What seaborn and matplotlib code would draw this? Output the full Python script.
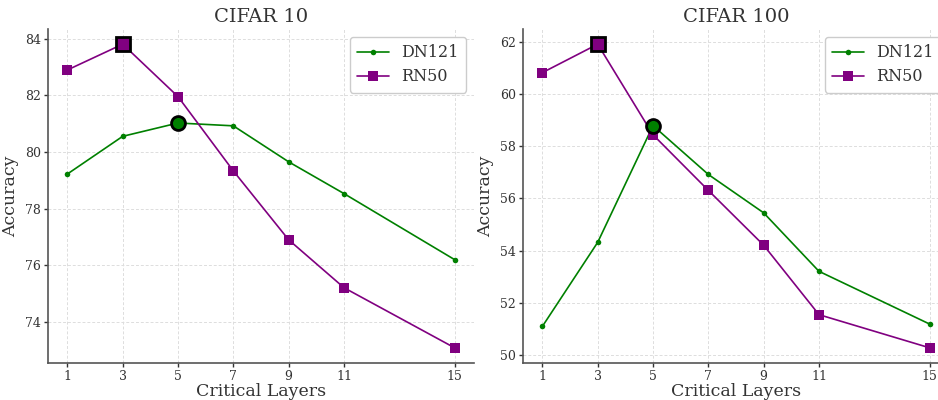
import matplotlib
matplotlib.use("Agg")
import matplotlib.pyplot as plt
import seaborn as sns
import pandas as pd
import numpy as np

layers = [1, 3, 5, 7, 9, 11, 15]
c10_dn121 = [79.22, 80.55, 81.02, 80.92, 79.65, 78.53, 76.20]
c10_rn50 = [82.89, 83.80, 81.95, 79.33, 76.90, 75.21, 73.09]
c100_dn121 = [51.10, 54.32, 58.79, 56.92, 55.45, 53.21, 51.19]
c100_rn50 = [60.82, 61.91, 58.44, 56.31, 54.21, 51.55, 50.28]
titles = ["CIFAR 10", "CIFAR 100"]
series_names = ["DN121", "RN50"]

sns.set_theme(style="whitegrid")
plt.rcParams["font.family"] = ["DejaVu Serif"]

fig = plt.figure(figsize=(9.38, 4), dpi=100)
W, H = 938, 400
ax1 = fig.add_axes([48 / W, 37 / H, 426 / W, 334 / H])
ax2 = fig.add_axes([523 / W, 37 / H, 426 / W, 334 / H])

datasets = [(c10_dn121, c10_rn50), (c100_dn121, c100_rn50)]
for ax, title, (dn, rn) in zip([ax1, ax2], titles, datasets):
    df = pd.DataFrame({"layer": layers * 2,
                       "acc": dn + rn,
                       "model": [series_names[0]] * len(layers) + [series_names[1]] * len(layers)})
    sns.lineplot(data=df[df.model == "DN121"], x="layer", y="acc", ax=ax,
                 color="green", marker="o", markersize=4, markeredgewidth=0,
                 linewidth=1.2, label="DN121")
    sns.lineplot(data=df[df.model == "RN50"], x="layer", y="acc", ax=ax,
                 color="purple", marker="s", markersize=7, markeredgewidth=0,
                 linewidth=1.2, label="RN50")
    # highlight maxima
    i_dn = int(np.argmax(dn))
    i_rn = int(np.argmax(rn))
    ax.plot(layers[i_rn], rn[i_rn], marker="s", markersize=10, color="purple",
            markeredgecolor="black", markeredgewidth=2, zorder=5)
    ax.plot(layers[i_dn], dn[i_dn], marker="o", markersize=10, color="green",
            markeredgecolor="black", markeredgewidth=2, zorder=5)

    ax.set_title(title, fontsize=14, color="#333333", pad=5)
    ax.set_xlabel("Critical Layers", fontsize=12.5, color="#333333", labelpad=0)
    ax.set_ylabel("Accuracy", fontsize=12.5, color="#333333", labelpad=4)
    ax.set_xticks(layers)
    ax.tick_params(axis="both", labelsize=9, colors="#333333", length=3,
                   width=1, direction="out", pad=2, left=True, bottom=True)
    ax.grid(True, linestyle=(0, (3, 2)), color="#dddddd", linewidth=0.7)
    for s in ["top", "right"]:
        ax.spines[s].set_visible(False)
    for s in ["left", "bottom"]:
        ax.spines[s].set_color("#555555")
        ax.spines[s].set_linewidth(1.2)
    leg = ax.legend(loc="upper right", fontsize=11.5, frameon=True, fancybox=True,
                    framealpha=1.0, edgecolor="#cccccc", borderpad=0.45,
                    handlelength=2.0, labelspacing=0.45)
    for t in leg.get_texts():
        t.set_color("#333333")

ax1.set_yticks([74, 76, 78, 80, 82, 84])
ax2.set_yticks([50, 52, 54, 56, 58, 60, 62])

fig.savefig("out.png", dpi=100)
